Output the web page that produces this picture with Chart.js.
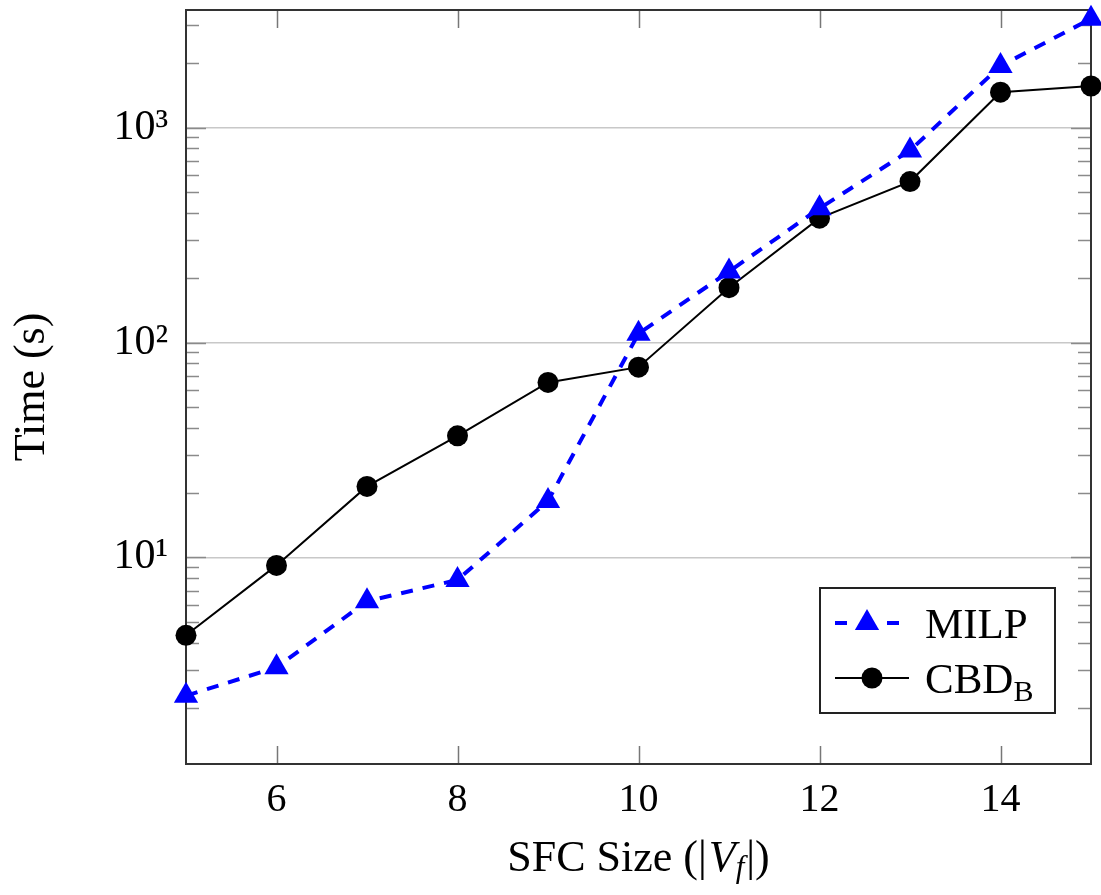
<!DOCTYPE html>
<html>
<head>
<meta charset="utf-8">
<script src="https://cdn.jsdelivr.net/npm/chart.js@4/dist/chart.umd.min.js"></script>
<style>
  html, body { margin: 0; padding: 0; background: #ffffff; }
  #wrap { width: 1101px; height: 895px; }
</style>
</head>
<body>
<div id="wrap"><canvas id="c" width="1101" height="895"></canvas></div>
<script>
// ---- data ----
const sfcSizes = [5, 6, 7, 8, 9, 10, 11, 12, 13, 14, 15];
const milpTimes = [2.27, 3.08, 6.25, 7.86, 18.3, 110, 214, 421, 783, 1936, 3210];
const cbdTimes  = [4.34, 9.18, 21.4, 36.8, 65.2, 76.8, 180, 379, 561, 1462, 1563];
const seriesLabels = ['MILP', 'CBD_B'];
const xTickValues = [6, 8, 10, 12, 14];
const yTickValues = [10, 100, 1000];
const yTickLabels = ['10\u00B9', '10\u00B2', '10\u00B3'];
const xTitleParts = ['SFC Size (|', 'V', 'f', '|)'];
const yTitle = 'Time (s)';

const FONT = "'Liberation Serif', 'DejaVu Serif', serif";

const framePlugin = {
  id: 'frame',
  beforeDatasetsDraw(chart) {
    const ctx = chart.ctx, a = chart.chartArea;
    const xs = chart.scales.x, ys = chart.scales.y;
    ctx.save();
    ctx.strokeStyle = '#8a8a8a';
    ctx.lineWidth = 1.5;
    for (let k = -1; k <= 4; k++) {
      for (let m = 2; m <= 9; m++) {
        const v = m * Math.pow(10, k);
        if (v < ys.min || v > ys.max) continue;
        const py = Math.round(ys.getPixelForValue(v)) + 0.5;
        ctx.beginPath();
        ctx.moveTo(a.left, py); ctx.lineTo(a.left + 13, py);
        ctx.moveTo(a.right, py); ctx.lineTo(a.right - 13, py);
        ctx.stroke();
      }
    }
    yTickValues.forEach(v => {
      const py = Math.round(ys.getPixelForValue(v)) + 0.5;
      ctx.beginPath();
      ctx.moveTo(a.left, py); ctx.lineTo(a.left + 20, py);
      ctx.moveTo(a.right, py); ctx.lineTo(a.right - 20, py);
      ctx.stroke();
    });
    ctx.strokeStyle = '#777777';
    xTickValues.forEach(v => {
      const px = Math.round(xs.getPixelForValue(v)) + 0.5;
      ctx.beginPath();
      ctx.moveTo(px, a.bottom); ctx.lineTo(px, a.bottom - 18);
      ctx.moveTo(px, a.top); ctx.lineTo(px, a.top + 18);
      ctx.stroke();
    });
    ctx.strokeStyle = '#333333';
    ctx.lineWidth = 2;
    ctx.strokeRect(a.left, a.top, a.right - a.left, a.bottom - a.top);
    ctx.restore();
  },
  afterDraw(chart) {
    const ctx = chart.ctx, a = chart.chartArea;
    ctx.save();
    const size = 44;
    const fonts = [
      `${size}px ${FONT}`,
      `italic ${size}px ${FONT}`,
      `italic ${Math.round(size * 0.7)}px ${FONT}`,
      `${size}px ${FONT}`
    ];
    const offsets = [0, 0, 6, 0];
    const gaps = [2, 0, 2, 0];
    let widths = xTitleParts.map((t, i) => { ctx.font = fonts[i]; return ctx.measureText(t).width + gaps[i]; });
    const total = widths.reduce((s, w) => s + w, 0);
    let x = (a.left + a.right) / 2 - total / 2;
    const base = 871;
    ctx.fillStyle = '#000';
    ctx.textBaseline = 'alphabetic';
    ctx.textAlign = 'left';
    xTitleParts.forEach((t, i) => {
      ctx.font = fonts[i];
      ctx.fillText(t, x, base + offsets[i]);
      x += widths[i];
    });

    // legend
    const bx = 820, by = 588, bw = 235, bh = 125;
    ctx.fillStyle = '#ffffff';
    ctx.fillRect(bx, by, bw, bh);
    ctx.strokeStyle = '#222';
    ctx.lineWidth = 2;
    ctx.strokeRect(bx, by, bw, bh);
    const rows = [623, 678];
    chart.data.datasets.forEach((ds, i) => {
      const ry = rows[i];
      ctx.strokeStyle = ds.borderColor;
      ctx.lineWidth = ds.borderWidth;
      ctx.beginPath();
      if (ds.borderDash) {
        ctx.moveTo(835, ry); ctx.lineTo(847, ry);
        ctx.moveTo(887, ry); ctx.lineTo(899, ry);
      } else {
        ctx.moveTo(835, ry); ctx.lineTo(909, ry);
      }
      ctx.stroke();
      ctx.fillStyle = ds.pointBackgroundColor || ds.backgroundColor;
      ctx.strokeStyle = ds.borderColor;
      Chart.helpers.drawPoint(ctx, {
        pointStyle: ds.pointStyle, radius: ds.pointRadius, rotation: 0, borderWidth: 0
      }, ds.borderDash ? 867 : 872, ry);
      const [main, sub] = ds.label.split('_');
      ctx.fillStyle = '#000';
      ctx.font = `43px ${FONT}`;
      ctx.textBaseline = 'alphabetic';
      const tx = 925, tb = ry + 15;
      ctx.fillText(main, tx, tb);
      if (sub) {
        const mw = ctx.measureText(main).width;
        ctx.font = `30px ${FONT}`;
        ctx.fillText(sub, tx + mw, tb + 8);
      }
    });
    ctx.restore();
  }
};

new Chart(document.getElementById('c'), {
  type: 'line',
  data: {
    datasets: [
      {
        label: seriesLabels[0],
        data: sfcSizes.map((x, i) => ({ x: x, y: milpTimes[i] })),
        borderColor: '#0000ff',
        backgroundColor: '#0000ff',
        pointBackgroundColor: '#0000ff',
        borderWidth: 4,
        borderDash: [12, 10],
        pointStyle: 'triangle',
        pointRadius: 14,
        pointBorderWidth: 0,
        tension: 0,
        clip: false
      },
      {
        label: seriesLabels[1],
        data: sfcSizes.map((x, i) => ({ x: x, y: cbdTimes[i] })),
        borderColor: '#000000',
        backgroundColor: '#000000',
        pointBackgroundColor: '#000000',
        borderWidth: 2,
        pointStyle: 'circle',
        pointRadius: 10.5,
        pointBorderWidth: 0,
        tension: 0,
        clip: false
      }
    ]
  },
  options: {
    responsive: false,
    animation: false,
    devicePixelRatio: 1,
    layout: { autoPadding: false, padding: { left: 0, right: 10, top: 10, bottom: 0 } },
    plugins: {
      legend: { display: false },
      tooltip: { enabled: false }
    },
    scales: {
      x: {
        type: 'linear',
        min: 5,
        max: 15,
        afterBuildTicks: s => { s.ticks = xTickValues.map(v => ({ value: v })); },
        afterFit: s => { s.height = 131; s.paddingLeft = 0; s.paddingRight = 0; },
        grid: { display: false, drawTicks: false },
        border: { display: false },
        ticks: {
          color: '#000',
          font: { family: FONT, size: 40 },
          padding: 12,
          maxRotation: 0,
          autoSkip: false
        }
      },
      y: {
        type: 'logarithmic',
        min: 1.093,
        max: 3527,
        afterBuildTicks: s => { s.ticks = yTickValues.map(v => ({ value: v })); },
        afterFit: s => { s.width = 186; s.paddingTop = 0; s.paddingBottom = 0; },
        grid: { color: '#c8c8c8', lineWidth: 1.5, drawTicks: false },
        border: { display: false },
        ticks: {
          color: '#000',
          font: { family: FONT, size: 42 },
          padding: 18,
          autoSkip: false,
          callback: (v) => { const i = yTickValues.indexOf(v); return i >= 0 ? yTickLabels[i] : ''; }
        },
        title: {
          display: true,
          text: yTitle,
          color: '#000',
          font: { family: FONT, size: 44 },
          padding: { top: 6, bottom: 0 }
        }
      }
    }
  },
  plugins: [framePlugin]
});
</script>
</body>
</html>
